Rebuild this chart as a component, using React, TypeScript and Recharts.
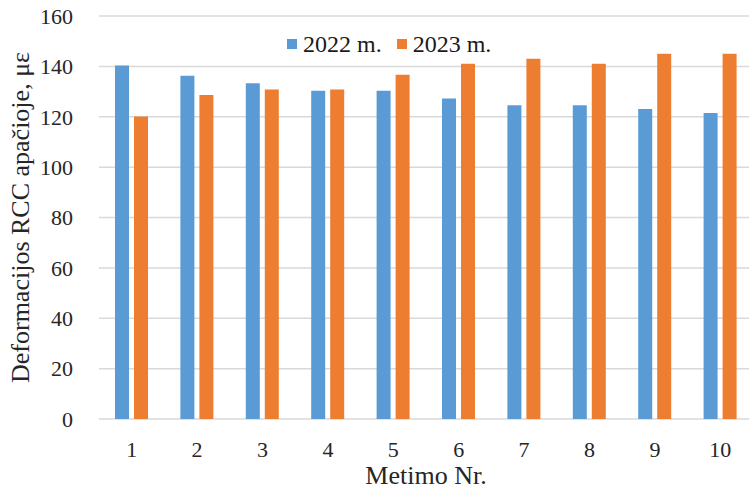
import { BarChart, Bar, XAxis, YAxis, CartesianGrid } from "recharts"

const categories = ["1", "2", "3", "4", "5", "6", "7", "8", "9", "10"]
const values2022 = [140.3, 136.3, 133.3, 130.3, 130.3, 127.2, 124.6, 124.6, 123.1, 121.5]
const values2023 = [120.1, 128.6, 130.8, 130.8, 136.7, 141, 143, 141, 145, 145]
const yTicks = [0, 20, 40, 60, 80, 100, 120, 140, 160]

const data = categories.map((c, i) => ({
  name: c,
  y2022: values2022[i],
  y2023: values2023[i],
}))

const font = "'Liberation Serif', 'Times New Roman', serif"

export default function App() {
  return (
    <div
      style={{
        position: "fixed",
        left: 0,
        top: 0,
        width: 749,
        height: 497,
        overflow: "hidden",
        background: "#fff",
        fontFamily: font,
      }}
    >
      <BarChart
        width={760}
        height={497}
        data={data}
        margin={{ top: 16, right: 7, bottom: 18, left: 0 }}
        barSize={14}
        barGap={5}
      >
        <CartesianGrid stroke="#d9d9d9" strokeWidth={1.5} vertical={false} />
        <XAxis
          dataKey="name"
          height={60}
          axisLine={false}
          tickLine={false}
          tick={{ fontSize: 22, fill: "#262626", fontFamily: font }}
          tickMargin={16}
          label={{
            value: "Metimo Nr.",
            position: "insideBottom",
            offset: -5,
            style: { fontSize: 26, fill: "#262626", fontFamily: font },
          }}
        />
        <YAxis
          width={99}
          domain={[0, 160]}
          ticks={yTicks}
          axisLine={false}
          tickLine={false}
          tick={{ fontSize: 22, fill: "#262626", fontFamily: font }}
          tickMargin={20}
          label={{
            value: "Deformacijos RCC apačioje, με",
            angle: -90,
            position: "insideLeft",
            offset: 20,
            style: { fontSize: 26, fill: "#262626", fontFamily: font, textAnchor: "middle" },
          }}
        />
        <Bar dataKey="y2022" name="2022 m." fill="#5b9bd5" isAnimationActive={false} />
        <Bar dataKey="y2023" name="2023 m." fill="#ed7d31" isAnimationActive={false} />
      </BarChart>
      <div
        style={{
          position: "absolute",
          left: 287,
          top: 30,
          display: "flex",
          alignItems: "center",
          fontSize: 24,
          lineHeight: "28px",
          color: "#1a1a1a",
          whiteSpace: "nowrap",
        }}
      >
        <span style={{ width: 10, height: 10, background: "#5b9bd5", marginRight: 6 }} />
        <span style={{ marginRight: 15 }}>2022 m.</span>
        <span style={{ width: 10, height: 10, background: "#ed7d31", marginRight: 6 }} />
        <span>2023 m.</span>
      </div>
    </div>
  )
}
